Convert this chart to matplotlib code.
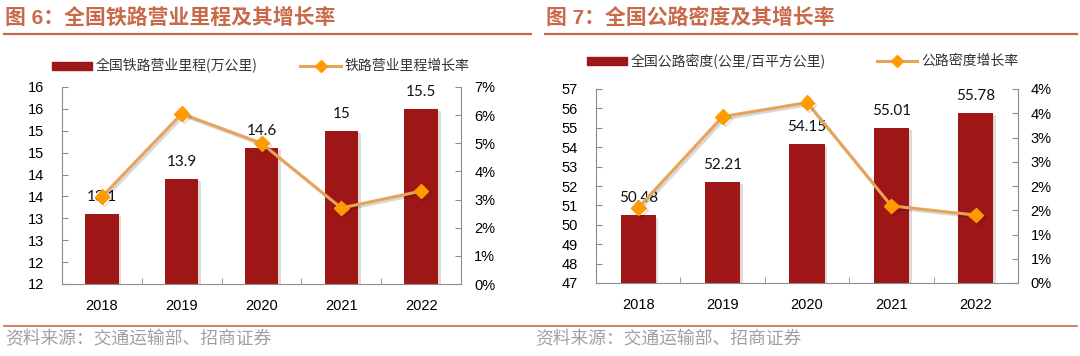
import numpy as np
import matplotlib
matplotlib.use("Agg")
import matplotlib.pyplot as plt
import matplotlib.patheffects as pe
from matplotlib.lines import Line2D
from matplotlib.patches import Rectangle
from matplotlib.ticker import FixedLocator, FuncFormatter

plt.rcParams['font.family'] = ['Liberation Sans', 'Noto Sans CJK SC']

# data
years = ['2018', '2019', '2020', '2021', '2022']
rail_km = [13.1, 13.9, 14.6, 15.0, 15.5]
rail_labels = ['13.1', '13.9', '14.6', '15', '15.5']
rail_growth = [0.031, 0.0605, 0.050, 0.027, 0.033]
road_density = [50.48, 52.21, 54.15, 55.01, 55.78]
road_labels = ['50.48', '52.21', '54.15', '55.01', '55.78']
road_growth = [0.0155, 0.0343, 0.0372, 0.0159, 0.0140]

W, H = 1080, 356
BAR = '#9E1616'
LINE = '#E6A35A'
MARK = '#FF9A00'
TITLE = '#C8694A'
GREY = '#8C8C8C'


def px(x0, y_top, x1, y_bot):
    return [x0 / W, 1 - y_bot / H, (x1 - x0) / W, (y_bot - y_top) / H]


def half_up(v, pct=False):
    if pct:
        v = v * 100
    r = int(np.floor(v + 0.5 + 1e-9))
    return f'{r}%' if pct else f'{r}'


fig = plt.figure(figsize=(W / 100, H / 100), dpi=100)


def panel(box, vals, labels, growth, ylim, ystep, plim, pstep, width, lpad, rpad):
    ax = fig.add_axes(px(*box))
    x = np.arange(len(years))
    ax.bar(x, vals, width=width, color=BAR, zorder=2,
           path_effects=[pe.withSimplePatchShadow(offset=(2, -1.5), alpha=0.15)])
    for xi, v, lab in zip(x, vals, labels):
        ax.annotate(lab, (xi, v), xytext=(0, 17), textcoords='offset pixels',
                    ha='center', va='center', fontsize=11, family='Lato',
                    color='#111111', zorder=5)
    ax.set_xlim(-0.5, len(years) - 0.5)
    ax.set_ylim(*ylim)
    ax.yaxis.set_major_locator(FixedLocator(np.arange(ylim[0], ylim[1] + 1e-6, ystep)))
    ax.yaxis.set_major_formatter(FuncFormatter(lambda v, p: half_up(v)))
    ax.set_xticks(x)
    ax.set_xticklabels(years)
    ax.set_xticks(np.arange(-0.5, len(years)), minor=True)
    ax.tick_params(axis='x', which='major', length=0, pad=11, labelsize=10.5)
    ax.tick_params(axis='x', which='minor', direction='in', length=4, color=GREY)
    ax.tick_params(axis='y', direction='in', length=4, color=GREY, pad=lpad,
                   labelsize=10.5)
    ax.spines['top'].set_visible(False)
    ax.spines['right'].set_visible(False)
    for s in ['left', 'bottom']:
        ax.spines[s].set_color(GREY)

    ax2 = ax.twinx()
    ax2.plot(x, growth, color=LINE, lw=2.2, marker='D', ms=7.5,
             mfc=MARK, mec=MARK, zorder=4,
             path_effects=[pe.SimpleLineShadow(offset=(1.5, -1.5), alpha=0.15), pe.Normal()])
    ax2.set_ylim(*plim)
    ax2.yaxis.set_major_locator(FixedLocator(np.arange(plim[0], plim[1] + 1e-9, pstep)))
    ax2.yaxis.set_major_formatter(FuncFormatter(lambda v, p: half_up(v, True)))
    ax2.tick_params(axis='y', direction='in', length=4, color=GREY, pad=rpad,
                    labelsize=10.5)
    ax2.spines['top'].set_visible(False)
    ax2.spines['left'].set_visible(False)
    ax2.spines['bottom'].set_visible(False)
    ax2.spines['right'].set_color(GREY)
    return ax, ax2


panel((62, 87, 461, 284), rail_km, rail_labels, rail_growth,
      (11.5, 16.0), 0.5, (0, 0.07), 0.01, 0.42, 13, 9.5)
panel((596, 89, 1018, 283), road_density, road_labels, road_growth,
      (47, 57), 1, (0, 0.04), 0.005, 0.415, 13, 9)


def legend(bx0, bx1, by, btxt, lx0, lx1, ly, ltxt):
    fig.patches.append(Rectangle((bx0 / W, 1 - (by + 4) / H), (bx1 - bx0) / W, 8 / H,
                                 transform=fig.transFigure, color=BAR))
    fig.text((bx1 + 4) / W, 1 - by / H, btxt, fontsize=10, color='#333333',
             va='center', ha='left', family=['Noto Sans CJK SC'])
    fig.lines.append(Line2D([lx0 / W, lx1 / W], [1 - ly / H, 1 - ly / H],
                            transform=fig.transFigure, color=LINE, lw=2.2))
    fig.lines.append(Line2D([(lx0 + lx1) / 2 / W], [1 - ly / H], transform=fig.transFigure,
                            marker='D', ms=6.5, mfc=MARK, mec=MARK, ls='none'))
    fig.text((lx1 + 4) / W, 1 - ly / H, ltxt, fontsize=10, color='#333333',
             va='center', ha='left', family=['Noto Sans CJK SC'])


legend(52, 92, 66, '全国铁路营业里程(万公里)', 300, 341, 66, '铁路营业里程增长率')
legend(587, 627, 61, '全国公路密度(公里/百平方公里)', 877, 917, 61, '公路密度增长率')

# titles and rules
fig.text(5 / W, 1 - 18 / H, '图 6：全国铁路营业里程及其增长率', fontsize=15,
         fontweight='bold', color=TITLE, va='center', ha='left')
fig.text(546 / W, 1 - 18 / H, '图 7：全国公路密度及其增长率', fontsize=15,
         fontweight='bold', color=TITLE, va='center', ha='left')
for x0, x1 in [(4, 531), (545, 1077)]:
    fig.lines.append(Line2D([x0 / W, x1 / W], [1 - 34 / H] * 2,
                            transform=fig.transFigure, color=TITLE, lw=1.6))
fig.lines.append(Line2D([4 / W, 1077 / W], [1 - 325.5 / H] * 2,
                        transform=fig.transFigure, color=TITLE, lw=1.2))
for x0 in [5, 535]:
    fig.text(x0 / W, 1 - 339 / H, '资料来源：交通运输部、招商证券', fontsize=12.8,
             color='#A0A0A0', va='center', ha='left', family=['Noto Sans CJK SC'])

fig.savefig('out.png', dpi=100)
